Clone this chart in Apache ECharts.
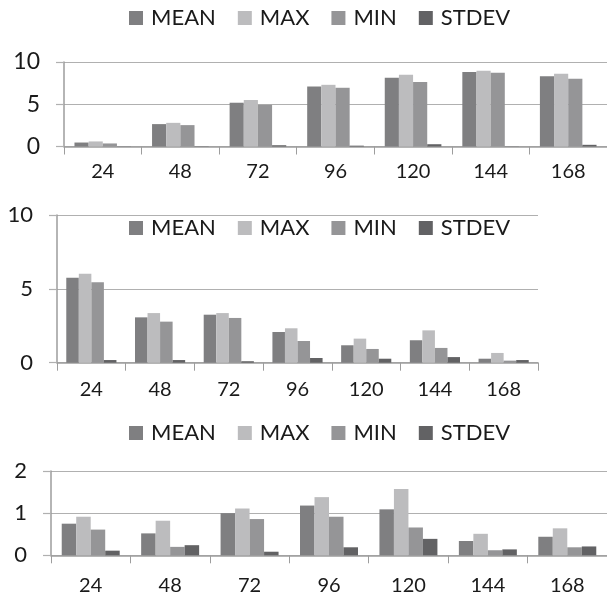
<!DOCTYPE html>
<html>
<head>
<meta charset="utf-8">
<script src="https://cdn.jsdelivr.net/npm/echarts@6/dist/echarts.min.js"></script>
<style>
  html, body { margin: 0; padding: 0; background: #ffffff; }
  #chart { width: 607px; height: 599px; }
</style>
</head>
<body>
<div id="chart"></div>
<script>
// Sampling hours shared by all three panels
const categories = ['24', '48', '72', '96', '120', '144', '168'];
const seriesNames = ['MEAN', 'MAX', 'MIN', 'STDEV'];

// Panel 1
const p1Mean  = [0.47, 2.65, 5.18, 7.10, 8.15, 8.82, 8.30];
const p1Max   = [0.60, 2.80, 5.50, 7.30, 8.50, 8.97, 8.60];
const p1Min   = [0.36, 2.53, 4.94, 6.95, 7.63, 8.73, 8.02];
const p1Stdev = [0.02, 0.03, 0.15, 0.10, 0.27, 0.02, 0.20];
const p1Ticks = [0, 5, 10];

// Panel 2
const p2Mean  = [5.75, 3.07, 3.25, 2.08, 1.18, 1.52, 0.27];
const p2Max   = [6.03, 3.36, 3.36, 2.33, 1.63, 2.19, 0.66];
const p2Min   = [5.44, 2.78, 3.03, 1.47, 0.93, 1.00, 0.14];
const p2Stdev = [0.18, 0.18, 0.10, 0.32, 0.27, 0.38, 0.18];
const p2Ticks = [0, 5, 10];

// Panel 3
const p3Mean  = [0.75, 0.52, 1.00, 1.18, 1.09, 0.34, 0.44];
const p3Max   = [0.915, 0.82, 1.11, 1.38, 1.57, 0.51, 0.64];
const p3Min   = [0.61, 0.20, 0.86, 0.915, 0.66, 0.12, 0.19];
const p3Stdev = [0.11, 0.24, 0.085, 0.19, 0.39, 0.14, 0.21];
const p3Ticks = [0, 1, 2];

const colors = ['#7f7f81', '#bcbcbe', '#959597', '#626264'];
const FONT = 'Lato';
const TEXT = '#1a1a1a';

const panels = [
  { data: [p1Mean, p1Max, p1Min, p1Stdev], ticks: p1Ticks, ySize: 23,
    grid: { left: 64, top: 62, width: 550, height: 84.5 }, legendTop: 7, labelMargin: 15 },
  { data: [p2Mean, p2Max, p2Min, p2Stdev], ticks: p2Ticks, ySize: 22,
    grid: { left: 57, top: 215, width: 481, height: 147.7 }, legendTop: 217, labelMargin: 17 },
  { data: [p3Mean, p3Max, p3Min, p3Stdev], ticks: p3Ticks, ySize: 22,
    grid: { left: 51, top: 471, width: 561, height: 84.3 }, legendTop: 422, labelMargin: 20 }
];

const grids = [], xAxes = [], yAxes = [], legends = [], series = [];
panels.forEach((p, i) => {
  grids.push(Object.assign({ containLabel: false }, p.grid));
  xAxes.push({
    type: 'category', gridIndex: i, data: categories,
    axisLine: { lineStyle: { color: '#9d9d9d', width: 1.5 } },
    axisTick: { show: true, length: 8, lineStyle: { color: '#9d9d9d', width: 1 } },
    axisLabel: { color: TEXT, fontFamily: FONT, fontSize: 20, margin: p.labelMargin },
    splitLine: { show: false }
  });
  yAxes.push({
    type: 'value', gridIndex: i,
    min: p.ticks[0], max: p.ticks[p.ticks.length - 1],
    interval: p.ticks[1] - p.ticks[0],
    axisLine: { show: true, lineStyle: { color: '#9d9d9d', width: 1.5 } },
    axisTick: { show: true, length: 8, lineStyle: { color: '#b0b0b0', width: 1.2 } },
    axisLabel: { color: TEXT, fontFamily: FONT, fontSize: p.ySize, margin: 24 },
    splitLine: { lineStyle: { color: '#b0b0b0', width: 1.2 } }
  });
  legends.push({
    data: seriesNames, left: 129, top: p.legendTop, padding: 0,
    itemWidth: 14, itemHeight: 14, itemGap: 22, icon: 'rect',
    textStyle: { color: TEXT, fontFamily: FONT, fontSize: 22, padding: [0, 0, 0, 3] }
  });
  seriesNames.forEach((name, k) => {
    series.push({
      name: name, type: 'bar', xAxisIndex: i, yAxisIndex: i,
      data: p.data[k], barGap: '0%', barCategoryGap: '27%',
      itemStyle: { color: colors[k] }, animation: false
    });
  });
});

const chart = echarts.init(document.getElementById('chart'), null, { renderer: 'canvas' });
chart.setOption({
  backgroundColor: '#ffffff',
  animation: false,
  color: colors,
  grid: grids, xAxis: xAxes, yAxis: yAxes, legend: legends, series: series
});
</script>
</body>
</html>
